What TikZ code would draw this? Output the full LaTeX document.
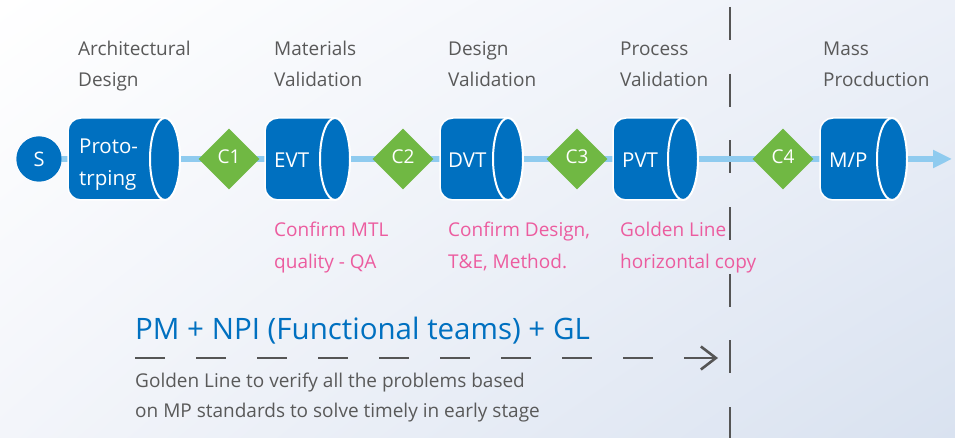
\documentclass[tikz,border=0pt]{standalone}
\usepackage{fontspec}
\setmainfont{Open Sans}
\usetikzlibrary{arrows.meta,shapes.geometric,shadings}
\definecolor{cblue}{HTML}{0070C0}
\definecolor{cgreen}{HTML}{70B843}
\definecolor{lineblue}{HTML}{8FCBEF}
\definecolor{tgray}{HTML}{595959}
\definecolor{tpink}{HTML}{EC5C9F}
\definecolor{dgray}{HTML}{555555}
\definecolor{bgtr}{HTML}{ECF0F8}
\definecolor{bgbl}{HTML}{F3F5FA}
\definecolor{bgbr}{HTML}{D9E2F0}
\newcommand\cylbody[2]{%
  \filldraw[fill=cblue, draw=white, line width=1.5pt]
    (#2,238) -- (#1+13,238) arc[start angle=270, end angle=180, radius=13]
    -- (#1,307) arc[start angle=180, end angle=90, radius=13]
    -- (#2,320) arc[start angle=90, end angle=-90, x radius=15, y radius=41] -- cycle;
  \filldraw[fill=cblue, draw=white, line width=2pt] (#2,279) ellipse[x radius=15, y radius=41];
}
\tikzset{
  gem/.style={diamond, fill=cgreen, minimum width=61, minimum height=61, inner sep=0pt},
  gemtext/.style={text=white, font=\fontsize{19}{22}\selectfont, inner sep=0pt},
  cyltext/.style={text=white, font=\fontsize{20.5}{32}\selectfont, align=left, inner sep=0pt, anchor=west},
  phase/.style={text=tgray, font=\fontsize{19}{31}\selectfont, align=left, inner sep=0pt, anchor=base west},
  note/.style={text=tpink, font=\fontsize{19}{32}\selectfont, align=left, inner sep=0pt, anchor=base west},
  mainline/.style={draw=lineblue, line width=6pt, -{Triangle[length=19pt, width=17pt]}},
  vdash/.style={draw=dgray, line width=2.6pt, dash pattern=on 33pt off 33.7pt},
  hdash/.style={draw=dgray, line width=2.6pt, dash pattern=on 30pt off 31pt, -{Straight Barb[length=15pt, width=23pt, line width=2.6pt]}},
}
\begin{document}
\begin{tikzpicture}[x=1pt,y=1pt]
\useasboundingbox (0,0) rectangle (955,438);
\shade[upper left=white, upper right=bgtr, lower left=bgbl, lower right=bgbr] (0,0) rectangle (955,438);

% vertical divider
\coordinate (vtop) at (730,431);
\coordinate (vbot) at (730,0);
\draw[vdash] (vtop) -- (vbot);

% start circle and main line
\node[circle, fill=cblue, minimum size=45, inner sep=0pt, text=white, font=\fontsize{20}{22}\selectfont] (S) at (39,279) {};
\coordinate (lineend) at (952,279);
\draw[mainline] (S.center) -- (lineend);
\node[circle, fill=cblue, minimum size=45, inner sep=0pt, text=white, font=\fontsize{20}{22}\selectfont] (Sdot) at (39,279) {S};

% cylinders
\cylbody{68}{165}
\node[cyltext] (proto) at (79,273) {Proto-\\trping};
\cylbody{265}{335}
\node[cyltext] (evt) at (274,277.5) {EVT};
\cylbody{440}{508}
\node[cyltext] (dvt) at (448,277.5) {DVT};
\cylbody{613}{683}
\node[cyltext] (pvt) at (622,277.5) {PVT};
\cylbody{820}{892}
\node[cyltext] (mp) at (829,277.5) {M/P};

% gates
\node[gem] (c1) at (229,279) {};
\node[gemtext] (c1t) at ([yshift=2.5]c1.center) {C1};
\node[gem] (c2) at (403,279) {};
\node[gemtext] (c2t) at ([yshift=2.5]c2.center) {C2};
\node[gem] (c3) at (577,279) {};
\node[gemtext] (c3t) at ([yshift=2.5]c3.center) {C3};
\node[gem] (c4) at (783,279) {};
\node[gemtext] (c4t) at ([yshift=2.5]c4.center) {C4};

% phase titles (anchor = baseline of last line)
\node[phase] (p1) at (78,351) {Architectural\\Design};
\node[phase] (p2) at (274,351) {Materials\\Validation};
\node[phase] (p3) at (448,351) {Design\\Validation};
\node[phase] (p4) at (620,351) {Process\\Validation};
\node[phase] (p5) at (823,351) {Mass\\Procduction};

% notes
\node[note] (n1) at (274,169) {Confirm MTL\\quality - QA};
\node[note] (n2) at (448,169) {Confirm Design,\\T\&E, Method.};
\node[note] (n3) at (620,169) {Golden Line\\horizontal copy};

% bottom
\node[text=cblue, font=\fontsize{29.5}{34}\selectfont, inner sep=0pt, anchor=base west] (title) at (135,98) {PM + NPI (Functional teams) + GL};
\coordinate (hstart) at (135,80);
\coordinate (hend) at (718,80);
\draw[hdash] (hstart) -- (hend);
\node[text=tgray, font=\fontsize{19}{30}\selectfont, align=left, inner sep=0pt, anchor=base west] (sub) at (135,20) {Golden Line to verify all the problems based\\on MP standards to solve timely in early stage};
\end{tikzpicture}
\end{document}
